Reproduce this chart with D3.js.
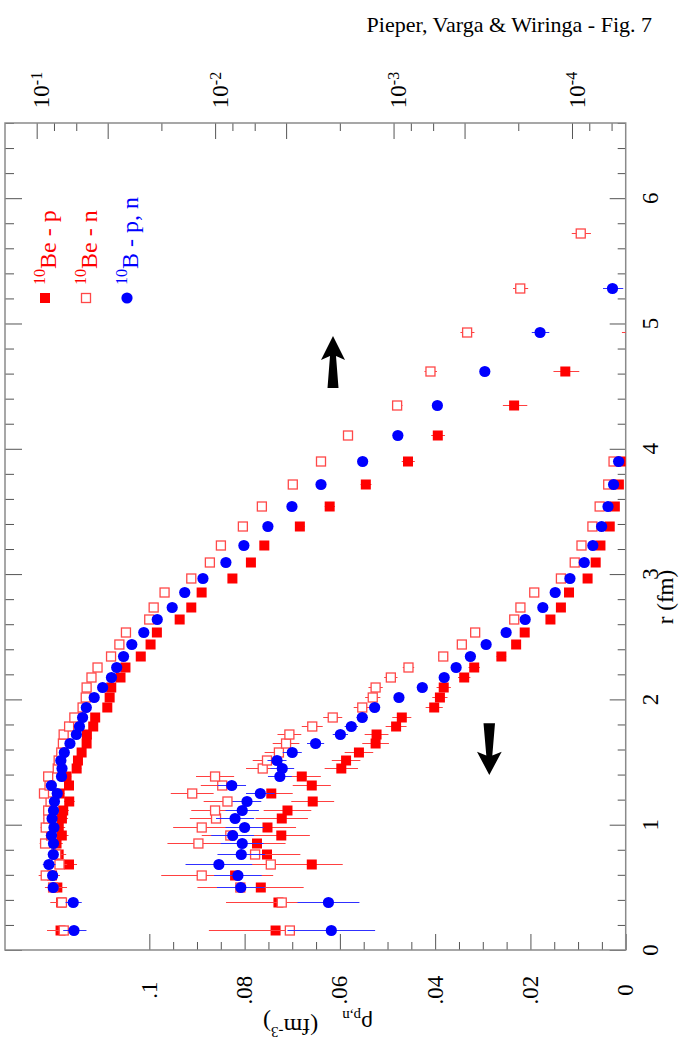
<!DOCTYPE html>
<html>
<head>
<meta charset="utf-8">
<script src="https://cdn.jsdelivr.net/npm/d3@7"></script>
<style>
  body { margin: 0; background: #fff; }
  svg { display: block; font-family: "Liberation Serif", "DejaVu Serif", serif; }
</style>
</head>
<body>
<svg id="chart" width="692" height="1042"></svg>
<script>
// radial grid (fm)
const radii = [0.16, 0.38, 0.50, 0.60, 0.69, 0.77, 0.85, 0.92, 0.98, 1.05, 1.12, 1.19, 1.25, 1.32, 1.39,
  1.45, 1.52, 1.58, 1.65, 1.72, 1.79, 1.86, 1.94, 2.02, 2.10, 2.18, 2.26, 2.35, 2.44, 2.54, 2.64, 2.74,
  2.86, 2.97, 3.10, 3.23, 3.38, 3.54, 3.72, 3.90, 4.11, 4.35, 4.62, 4.93, 5.28, 5.72];

// 10Be protons
const beP = [0.0735, 0.0729, 0.0766, 0.0820, 0.0659, 0.0753, 0.0774, 0.0723, 0.0752, 0.0722, 0.0710, 0.0657,
  0.0744, 0.0659, 0.0680, 0.0597, 0.0587, 0.0560, 0.0525, 0.0523, 0.0482, 0.0470, 0.0402, 0.0390, 0.0382,
  0.0339, 0.0318, 0.0261, 0.0230, 0.0212, 0.0158, 0.0136, 0.0119, 0.0080, 0.0063, 0.0053, 0.00335, 0.00228,
  0.00143, 0.00083, 0.000565, 0.000211, 0.000109, 0.000046, null, null];
const errBeP = [0.014, 0.011, 0.009, 0.008, 0.0065, 0.007, 0.006, 0.006, 0.006, 0.0055, 0.005, 0.0045, 0.0045,
  0.004, 0.004, 0.0035, 0.003, 0.003, 0.0028, 0.0025, 0.0022, 0.002, 0.0018, 0.0016, 0.0015, 0.0013, 0.0012,
  0.001, 0.0009, 0.0008, 0.0007, 0.0006, 0.0005, 0.0004, 0.0003, 0.00025, 0.0002, 0.00015, 0.0001, 0.00007,
  0.00005, 0.000033, 0.000018, 0.0000065, 0, 0];

// 10Be neutrons
const beN = [0.0705, 0.0722, 0.0809, 0.0890, 0.0745, 0.0778, 0.0897, 0.0830, 0.0890, 0.0860, 0.0862, 0.0836,
  0.0910, 0.0847, 0.0862, 0.0762, 0.0753, 0.0728, 0.0713, 0.0706, 0.0658, 0.0615, 0.0553, 0.0531, 0.0525,
  0.0493, 0.0456, 0.0383, 0.0344, 0.0316, 0.0234, 0.0221, 0.0192, 0.0136, 0.0107, 0.00928, 0.00699, 0.00547,
  0.00367, 0.00255, 0.00180, 0.000955, 0.000621, 0.000387, 0.000195, 0.0000893];
const errBeN = [0.013, 0.011, 0.009, 0.0085, 0.007, 0.007, 0.0065, 0.006, 0.006, 0.0055, 0.005, 0.005, 0.0045,
  0.0045, 0.004, 0.0035, 0.003, 0.003, 0.0028, 0.0025, 0.0022, 0.002, 0.0018, 0.0016, 0.0015, 0.0014, 0.0012,
  0.001, 0.0009, 0.0008, 0.0007, 0.0006, 0.0005, 0.0004, 0.0003, 0.00025, 0.0002, 0.00015, 0.00012, 0.0001,
  0.00008, 0.000064, 0.00005, 0.000035, 0.000019, 0.000011];

// 10B protons = neutrons
const bPN = [0.0618, 0.0624, 0.0808, 0.0814, 0.0854, 0.0807, 0.0805, 0.0825, 0.0800, 0.0820, 0.0805, 0.0795,
  0.0767, 0.0827, 0.0726, 0.0721, 0.0732, 0.0700, 0.0651, 0.0599, 0.0576, 0.0553, 0.0527, 0.0476, 0.0427,
  0.0381, 0.0356, 0.0326, 0.0293, 0.0251, 0.0211, 0.0174, 0.0148, 0.0117, 0.0087, 0.0069, 0.00506, 0.00371,
  0.00255, 0.00149, 0.000946, 0.000568, 0.000308, 0.000151, 0.0000593, null];
const errBPN = [0.0092, 0.0065, 0.005, 0.005, 0.007, 0.005, 0.0045, 0.0045, 0.004, 0.004, 0.0035, 0.003, 0.003,
  0.003, 0.0025, 0.0025, 0.002, 0.002, 0.0018, 0.0016, 0.0014, 0.0012, 0.0011, 0.001, 0.0009, 0.0008, 0.0007,
  0.0006, 0.0005, 0.0004, 0.0003, 0.00025, 0.0002, 0.00015, 0.00012, 0.0001, 0.00008, 0.00006, 0.00004,
  0.00003, 0.00002, 0.000015, 0.000012, 0.000017, 0.0000077, 0];

// ticks and labels
const rhoTicks = [0, 0.02, 0.04, 0.06, 0.08, 0.1];
const rhoTickLabels = ["0", ".02", ".04", ".06", ".08", ".1"];
const rTicks = [0, 1, 2, 3, 4, 5, 6];
const logDecades = [1e-1, 1e-2, 1e-3, 1e-4];
const logExponents = ["-1", "-2", "-3", "-4"];

const svg = d3.select("#chart");
svg.append("rect").attr("width", 692).attr("height", 1042).attr("fill", "#fff");

const frame = { left: 5, right: 625.7, top: 123, bottom: 950 };
const rScale = d3.scaleLinear().domain([0, 6.6]).range([frame.bottom, frame.top]);
const linScale = d3.scaleLinear().domain([0, 0.1303]).range([frame.right, frame.left]);
const logScale = d3.scaleLog().domain([0.1505, 5e-5]).range([frame.left, frame.right]);

svg.append("defs").append("clipPath").attr("id", "clip")
  .append("rect")
  .attr("x", frame.left).attr("y", frame.top)
  .attr("width", frame.right - frame.left).attr("height", frame.bottom - frame.top);

// axes (ticks point inward)
function tickAxis(axis, transform) {
  const g = svg.append("g").attr("transform", transform).call(axis);
  g.select(".domain").remove();
  g.selectAll("text").remove();
  g.selectAll("line").attr("stroke", "#555").attr("stroke-width", 1);
  return g;
}

const rhoMinor = d3.range(1, 20).filter(i => i % 4 !== 0).map(i => i * 0.005);
tickAxis(d3.axisBottom(linScale).tickValues(rhoTicks).tickSize(-16), `translate(0,${frame.bottom})`);
tickAxis(d3.axisBottom(linScale).tickValues(rhoMinor).tickSize(-8), `translate(0,${frame.bottom})`);

const logMajor = [], logMinor = [];
[1e-1, 1e-2, 1e-3, 1e-4, 1e-5].forEach(d => {
  logMajor.push(d, 0.4 * d);
  logMinor.push(0.8 * d, 0.6 * d, 0.2 * d);
});
const inLog = v => v <= 0.1505 && v >= 5e-5;
tickAxis(d3.axisTop(logScale).tickValues(logMajor.filter(inLog)).tickSize(-16), `translate(0,${frame.top})`);
tickAxis(d3.axisTop(logScale).tickValues(logMinor.filter(inLog)).tickSize(-8), `translate(0,${frame.top})`);

const rMinor = d3.range(1, 34).filter(i => i % 5 !== 0).map(i => i * 0.2);
tickAxis(d3.axisRight(rScale).tickValues(rTicks).tickSize(-16), `translate(${frame.right},0)`);
tickAxis(d3.axisRight(rScale).tickValues(rMinor).tickSize(-8), `translate(${frame.right},0)`);
tickAxis(d3.axisLeft(rScale).tickValues(rTicks).tickSize(-17), `translate(${frame.left},0)`);
tickAxis(d3.axisLeft(rScale).tickValues(rMinor).tickSize(-9), `translate(${frame.left},0)`);

svg.append("rect")
  .attr("x", frame.left).attr("y", frame.top)
  .attr("width", frame.right - frame.left).attr("height", frame.bottom - frame.top)
  .attr("fill", "none").attr("stroke", "#8a8a8a").attr("stroke-width", 1.5);

// tick labels, everything is turned a quarter
svg.append("g").selectAll("text").data(rhoTicks).join("text")
  .attr("transform", d => `translate(${linScale(d)},990) rotate(-90)`)
  .attr("text-anchor", "middle").attr("dy", "0.33em")
  .attr("font-size", 23)
  .text((d, i) => rhoTickLabels[i]);

svg.append("g").selectAll("text").data(rTicks).join("text")
  .attr("transform", d => `translate(650,${rScale(d)}) rotate(-90)`)
  .attr("text-anchor", "middle").attr("dy", "0.33em")
  .attr("font-size", 23)
  .text(d => d);

const logLab = svg.append("g").selectAll("text").data(logDecades).join("text")
  .attr("transform", d => `translate(${logScale(d) + 5},90) rotate(-90)`)
  .attr("text-anchor", "middle").attr("dy", "0.33em")
  .attr("font-size", 23);
logLab.append("tspan").text("10");
logLab.append("tspan").attr("dy", "-0.45em").attr("font-size", 16).text((d, i) => logExponents[i]);

// axis titles
svg.append("text")
  .attr("transform", "translate(665,597) rotate(-90)")
  .attr("text-anchor", "middle").attr("dy", "0.33em")
  .attr("font-size", 23)
  .text("r (fm)");

const yTitle = svg.append("text")
  .attr("transform", "translate(318,1024) rotate(180)")
  .attr("text-anchor", "middle").attr("dy", "0.33em")
  .attr("font-size", 24);
yTitle.append("tspan").text("ρ");
yTitle.append("tspan").attr("font-size", 15).attr("dy", "0.35em").text("p,n");
yTitle.append("tspan").attr("dx", 24).attr("dy", "-0.35em").text("(fm");
yTitle.append("tspan").attr("font-size", 15).attr("dy", "-0.5em").text("-3");
yTitle.append("tspan").attr("dy", "0.5em").text(")");

svg.append("text")
  .attr("x", 652).attr("y", 32)
  .attr("text-anchor", "end")
  .attr("font-size", 22)
  .text("Pieper, Varga & Wiringa - Fig. 7");

// data
const series = [
  { label: "Be - p", vals: beP, errs: errBeP, color: "#ff0000", bar: "#ff4040", shape: "filled" },
  { label: "Be - n", vals: beN, errs: errBeN, color: "#ff4848", bar: "#ff4040", shape: "open" },
  { label: "B - p, n", vals: bPN, errs: errBPN, color: "#0000ff", bar: "#3030ff", shape: "circle" }
];

const plot = svg.append("g").attr("clip-path", "url(#clip)");
const crisp = y => Math.round(y) + 0.5;

function marker(sel, s) {
  if (s.shape === "circle") {
    sel.append("circle").attr("r", 5.6).attr("fill", s.color);
  } else if (s.shape === "filled") {
    sel.append("rect").attr("x", -5).attr("y", -5).attr("width", 10).attr("height", 10).attr("fill", s.color);
  } else {
    sel.append("rect").attr("x", -4.5).attr("y", -4.5).attr("width", 9).attr("height", 9)
      .attr("fill", "#fff").attr("stroke", s.color).attr("stroke-width", 1.3);
  }
}

function drawSeries(s, xScale, keep) {
  const pts = radii.map((r, i) => ({ r, v: s.vals[i], e: s.errs[i] }))
    .filter(d => d.v != null && keep(d));
  const g = plot.append("g");
  g.selectAll("line").data(pts.filter(d => d.e > 0)).join("line")
    .attr("x1", d => xScale(Math.max(d.v - d.e, 1e-7)))
    .attr("x2", d => xScale(d.v + d.e))
    .attr("y1", d => crisp(rScale(d.r))).attr("y2", d => crisp(rScale(d.r)))
    .attr("stroke", s.bar).attr("stroke-width", 1);
  g.selectAll("g").data(pts).join("g")
    .attr("transform", d => `translate(${xScale(d.v)},${crisp(rScale(d.r))})`)
    .each(function () { marker(d3.select(this), s); });
}

series.forEach(s => {
  drawSeries(s, linScale, d => d.r < 4);
  drawSeries(s, logScale, () => true);
});

// legend
const legendX = [45, 86, 127];
series.forEach((s, i) => {
  const g = svg.append("g").attr("transform", `translate(${legendX[i]},298)`);
  marker(g, s);
  const t = svg.append("text")
    .attr("transform", `translate(${legendX[i] + 2},285) rotate(-90)`)
    .attr("dy", "0.33em")
    .attr("font-size", 24)
    .attr("fill", s.shape === "circle" ? "#0000ff" : "#ff0000");
  t.append("tspan").attr("font-size", 16).attr("dy", "-0.1em").text("10");
  t.append("tspan").attr("dy", "0.45em").text(s.label);
});

// arrows
const arrows = [
  [[333, 336], [345, 360], [336, 356], [338.5, 388], [327.5, 388], [330, 356], [321, 360]],
  [[489.3, 775], [501.7, 751.7], [492.3, 755.5], [495, 723.3], [483.5, 723.3], [486.3, 755.5], [477, 751.7]]
];
svg.append("g").selectAll("path").data(arrows).join("path")
  .attr("d", d => d3.line()(d) + "Z")
  .attr("fill", "#000");
</script>
</body>
</html>
